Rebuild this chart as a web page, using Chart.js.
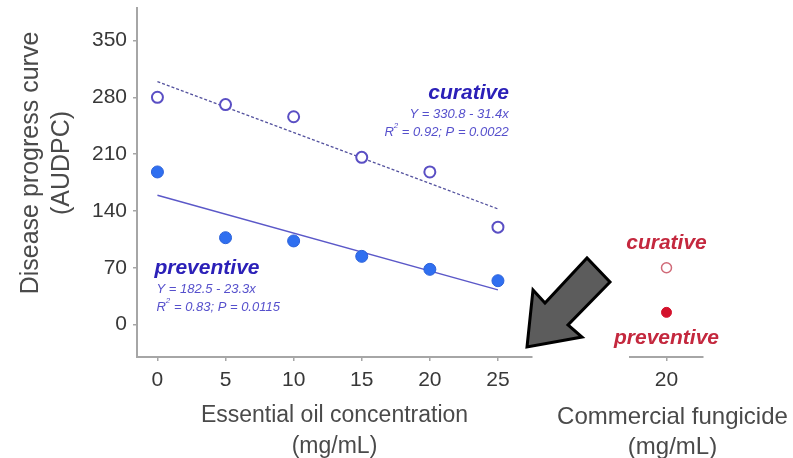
<!DOCTYPE html>
<html>
<head>
<meta charset="utf-8">
<script src="https://cdn.jsdelivr.net/npm/chart.js@4.4.0/dist/chart.umd.min.js"></script>
<style>
  html, body { margin: 0; padding: 0; background: #fff; overflow: hidden; }
  #wrap { position: relative; width: 793px; height: 458px; }
  canvas { position: absolute; left: 0; top: 0; }
</style>
</head>
<body>
<div id="wrap">
  <canvas id="oil" width="793" height="458"></canvas>
  <canvas id="fungicide" width="793" height="458"></canvas>
</div>
<script>
// Data
const concentrations = [0, 5, 10, 15, 20, 25];
const curative = [280, 271, 256, 206, 188, 120];
const preventive = [188, 107, 103, 84, 68, 54];

// regression lines (x in the equations is level 1..6)
const fitEnds = [0, 25];
const curativeFit = [299.4, 142.4];
const preventiveFit = [159.2, 42.7];

const yTicks = [0, 70, 140, 210, 280, 350];

const fungicideDose = [20];
const fungicideCurative = [70];
const fungicidePreventive = [15];

const curativeEq = ['Y = 330.8 - 31.4x', '0.92', '0.0022'];
const preventiveEq = ['Y = 182.5 - 23.3x', '0.83', '0.0115'];

// Colours
const BLUE_TEXT = '#2b20b8';
const EQ_TEXT = '#5650cc';
const RED_TEXT = '#c4283e';
const AXIS = '#a6a6a6';
const FONT = "'Liberation Sans', Arial, Helvetica, sans-serif";

Chart.defaults.font.family = FONT;
Chart.defaults.color = '#383838';

const toXY = (xs, ys) => xs.map((x, i) => ({ x, y: ys[i] }));

// Helpers for text
const drawRuns = (ctx, runs, x, y, align) => {
  let total = 0;
  runs.forEach(r => { ctx.font = r.font; total += ctx.measureText(r.text).width; });
  let cx = align === 'right' ? x - total : align === 'center' ? x - total / 2 : x;
  ctx.textAlign = 'left';
  ctx.textBaseline = 'middle';
  runs.forEach(r => {
    ctx.font = r.font;
    ctx.fillText(r.text, cx, y + (r.dy || 0));
    cx += ctx.measureText(r.text).width;
  });
};

const eqRuns = (eq) => [
  { text: 'R', font: `italic 13px ${FONT}` },
  { text: '2', font: `italic 8px ${FONT}`, dy: -6 },
  { text: ` = ${eq[1]}; P = ${eq[2]}`, font: `italic 13px ${FONT}` }
];

const sharedY = {
  min: -40,
  max: 390,
  afterBuildTicks: (s) => { s.ticks = yTicks.map(v => ({ value: v })); }
};

// Labels of the left panel
const oilLabels = {
  id: 'oilLabels',
  afterDraw(chart) {
    const { ctx, scales: { x, y } } = chart;
    ctx.save();

    // y axis title
    ctx.fillStyle = '#4a4a4a';
    ctx.font = `25px ${FONT}`;
    ctx.textAlign = 'center';
    ctx.textBaseline = 'middle';
    ctx.translate(31, 163);
    ctx.rotate(-Math.PI / 2);
    ctx.fillText('Disease progress curve', 0, 0);
    ctx.fillText('(AUDPC)', 0, 31);
    ctx.setTransform(1, 0, 0, 1, 0, 0);

    // curative
    const rx = x.getPixelForValue(25.8);
    ctx.fillStyle = BLUE_TEXT;
    drawRuns(ctx, [{ text: 'curative', font: `italic bold 21px ${FONT}` }], rx, y.getPixelForValue(285), 'right');
    ctx.fillStyle = EQ_TEXT;
    drawRuns(ctx, [{ text: curativeEq[0], font: `italic 13px ${FONT}` }], rx, y.getPixelForValue(259), 'right');
    drawRuns(ctx, eqRuns(curativeEq), rx, y.getPixelForValue(237), 'right');

    // preventive
    ctx.fillStyle = BLUE_TEXT;
    drawRuns(ctx, [{ text: 'preventive', font: `italic bold 21px ${FONT}` }], x.getPixelForValue(-0.22), y.getPixelForValue(69.6), 'left');
    ctx.fillStyle = EQ_TEXT;
    const lx = x.getPixelForValue(-0.07);
    drawRuns(ctx, [{ text: preventiveEq[0], font: `italic 13px ${FONT}` }], lx, y.getPixelForValue(43.7), 'left');
    drawRuns(ctx, eqRuns(preventiveEq), lx, y.getPixelForValue(21.6), 'left');

    ctx.restore();
  }
};

// Labels + arrow of the right panel
const fungicideLabels = {
  id: 'fungicideLabels',
  afterDraw(chart) {
    const { ctx, scales: { x, y } } = chart;
    const cx = x.getPixelForValue(20);
    ctx.save();
    ctx.fillStyle = RED_TEXT;
    drawRuns(ctx, [{ text: 'curative', font: `italic bold 21px ${FONT}` }], cx, y.getPixelForValue(100.4), 'center');
    drawRuns(ctx, [{ text: 'preventive', font: `italic bold 21px ${FONT}` }], cx, y.getPixelForValue(-16.6), 'center');

    ctx.fillStyle = '#4a4a4a';
    ctx.font = `24px ${FONT}`;
    ctx.textAlign = 'center';
    ctx.textBaseline = 'middle';
    ctx.fillText('Commercial fungicide', cx + 6, 417);
    ctx.fillText('(mg/mL)', cx + 6, 447);

    // arrow
    const pts = [[527, 347], [533, 290], [545, 303], [587, 258], [610, 282], [568, 325], [582, 337]];
    ctx.beginPath();
    pts.forEach(([px, py], i) => i ? ctx.lineTo(px, py) : ctx.moveTo(px, py));
    ctx.closePath();
    ctx.fillStyle = '#5c5c5c';
    ctx.fill();
    ctx.lineWidth = 3;
    ctx.lineJoin = 'miter';
    ctx.strokeStyle = '#000';
    ctx.stroke();
    ctx.restore();
  }
};

// Left panel: essential oil
new Chart(document.getElementById('oil'), {
  type: 'scatter',
  data: {
    datasets: [
      {
        label: 'curative',
        data: toXY(concentrations, curative),
        pointRadius: 5.5,
        pointBackgroundColor: '#fff',
        pointBorderColor: '#5a4fc4',
        pointBorderWidth: 2
      },
      {
        label: 'preventive',
        data: toXY(concentrations, preventive),
        pointRadius: 6,
        pointBackgroundColor: '#2f6ff0',
        pointBorderColor: '#2c62da',
        pointBorderWidth: 1
      },
      {
        label: 'curative fit',
        data: toXY(fitEnds, curativeFit),
        showLine: true,
        pointRadius: 0,
        borderColor: '#54529e',
        borderWidth: 1.3,
        borderDash: [3, 2]
      },
      {
        label: 'preventive fit',
        data: toXY(fitEnds, preventiveFit),
        showLine: true,
        pointRadius: 0,
        borderColor: '#5b58c8',
        borderWidth: 1.5
      }
    ]
  },
  options: {
    responsive: false,
    animation: false,
    events: [],
    layout: { padding: { top: 8, right: 261, left: 0, bottom: 0 } },
    plugins: { legend: { display: false }, tooltip: { enabled: false } },
    scales: {
      x: {
        type: 'linear',
        min: -1.5,
        max: 27.5,
        afterBuildTicks: (s) => { s.ticks = concentrations.map(v => ({ value: v })); },
        afterFit: (s) => { s.height = 101; s.paddingLeft = 0; s.paddingRight = 0; },
        border: { display: true, color: AXIS, width: 2 },
        grid: { drawOnChartArea: false, drawTicks: true, tickLength: 4, color: AXIS, lineWidth: 1.5 },
        ticks: { font: { size: 21 }, padding: 7, maxRotation: 0 },
        title: {
          display: true,
          text: ['Essential oil concentration', '(mg/mL)'],
          color: '#4a4a4a',
          font: { size: 23, lineHeight: 1.35 },
          padding: { top: 0, bottom: -4.5 }
        }
      },
      y: {
        ...sharedY,
        afterFit: (s) => { s.width = 137; s.paddingTop = 0; s.paddingBottom = 0; },
        border: { display: true, color: AXIS, width: 2 },
        grid: { drawOnChartArea: false, drawTicks: true, tickLength: 4, color: AXIS, lineWidth: 1.5 },
        ticks: { font: { size: 21 }, padding: 6 }
      }
    }
  },
  plugins: [oilLabels]
});

// Right panel: commercial fungicide
new Chart(document.getElementById('fungicide'), {
  type: 'scatter',
  data: {
    datasets: [
      {
        label: 'curative',
        data: toXY(fungicideDose, fungicideCurative),
        pointRadius: 5,
        pointBackgroundColor: '#fff',
        pointBorderColor: '#d06a78',
        pointBorderWidth: 1.5
      },
      {
        label: 'preventive',
        data: toXY(fungicideDose, fungicidePreventive),
        pointRadius: 5,
        pointBackgroundColor: '#d4122c',
        pointBorderColor: '#d4122c',
        pointBorderWidth: 1
      }
    ]
  },
  options: {
    responsive: false,
    animation: false,
    events: [],
    layout: { padding: { top: 8, right: 90, left: 630, bottom: 0 } },
    plugins: { legend: { display: false }, tooltip: { enabled: false } },
    scales: {
      x: {
        type: 'linear',
        min: 17.5,
        max: 22.5,
        afterBuildTicks: (s) => { s.ticks = fungicideDose.map(v => ({ value: v })); },
        afterFit: (s) => { s.height = 101; s.paddingLeft = 0; s.paddingRight = 0; },
        border: { display: true, color: AXIS, width: 2 },
        grid: { drawOnChartArea: false, drawTicks: true, tickLength: 4, color: AXIS, lineWidth: 1.5 },
        ticks: { font: { size: 21 }, padding: 7, maxRotation: 0 }
      },
      y: {
        ...sharedY,
        display: false
      }
    }
  },
  plugins: [fungicideLabels]
});
</script>
</body>
</html>
